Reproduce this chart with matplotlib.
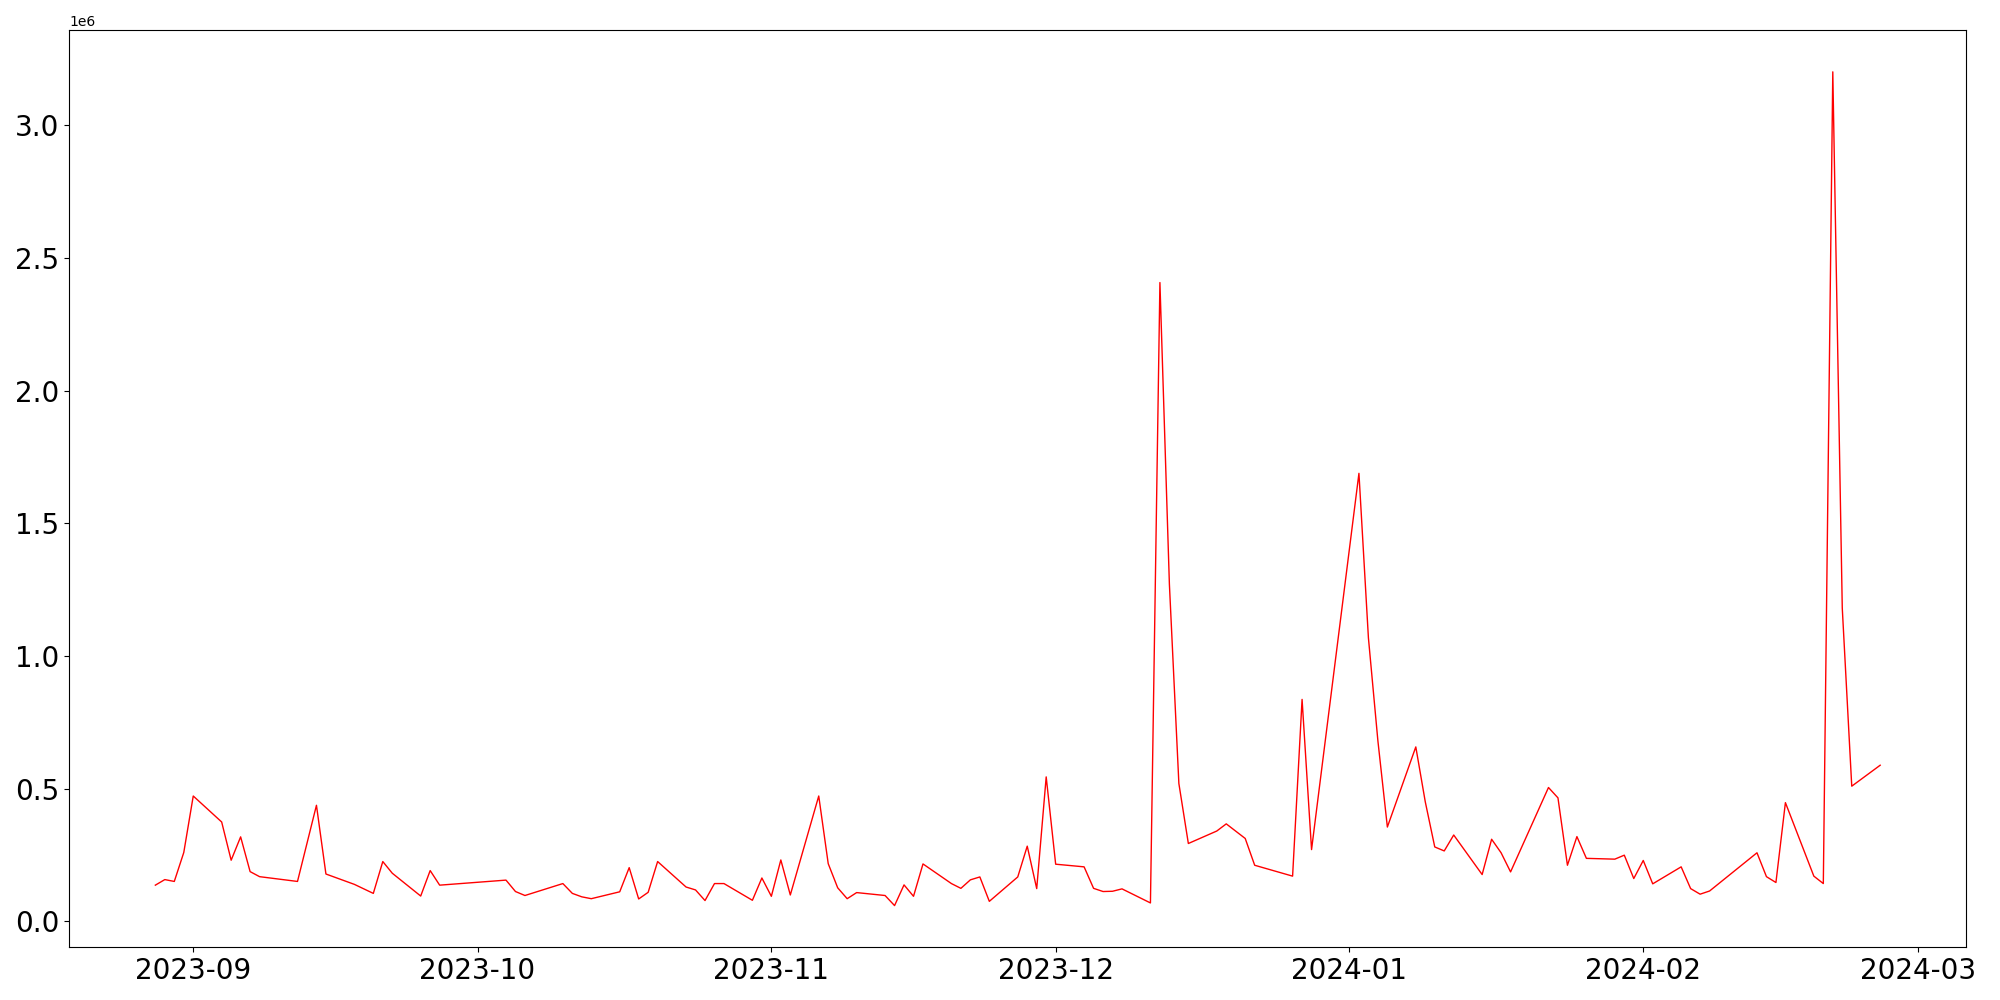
import pandas as pd
import matplotlib
matplotlib.use('Agg')
import matplotlib.pyplot as plt

# trading days
dates = [
    '2023-08-28', '2023-08-29', '2023-08-30', '2023-08-31', '2023-09-01',
    '2023-09-04', '2023-09-05', '2023-09-06', '2023-09-07', '2023-09-08',
    '2023-09-12', '2023-09-14', '2023-09-15', '2023-09-18', '2023-09-20',
    '2023-09-21', '2023-09-22', '2023-09-25', '2023-09-26', '2023-09-27',
    '2023-10-04', '2023-10-05', '2023-10-06', '2023-10-10', '2023-10-11',
    '2023-10-12', '2023-10-13', '2023-10-16', '2023-10-17', '2023-10-18',
    '2023-10-19', '2023-10-20', '2023-10-23', '2023-10-24', '2023-10-25',
    '2023-10-26', '2023-10-27', '2023-10-30', '2023-10-31', '2023-11-01',
    '2023-11-02', '2023-11-03', '2023-11-06', '2023-11-07', '2023-11-08',
    '2023-11-09', '2023-11-10', '2023-11-13', '2023-11-14', '2023-11-15',
    '2023-11-16', '2023-11-17', '2023-11-20', '2023-11-21', '2023-11-22',
    '2023-11-23', '2023-11-24', '2023-11-27', '2023-11-28', '2023-11-29',
    '2023-11-30', '2023-12-01', '2023-12-04', '2023-12-05', '2023-12-06',
    '2023-12-07', '2023-12-08', '2023-12-11', '2023-12-12', '2023-12-13',
    '2023-12-14', '2023-12-15', '2023-12-18', '2023-12-19', '2023-12-21',
    '2023-12-22', '2023-12-26', '2023-12-27', '2023-12-28', '2024-01-02',
    '2024-01-03', '2024-01-04', '2024-01-05', '2024-01-08', '2024-01-09',
    '2024-01-10', '2024-01-11', '2024-01-12', '2024-01-15', '2024-01-16',
    '2024-01-17', '2024-01-18', '2024-01-22', '2024-01-23', '2024-01-24',
    '2024-01-25', '2024-01-26', '2024-01-29', '2024-01-30', '2024-01-31',
    '2024-02-01', '2024-02-02', '2024-02-05', '2024-02-06', '2024-02-07',
    '2024-02-08', '2024-02-13', '2024-02-14', '2024-02-15', '2024-02-16',
    '2024-02-19', '2024-02-20', '2024-02-21', '2024-02-22', '2024-02-23',
    '2024-02-26',
]

# values in millions
values_m = [
    0.136, 0.157, 0.150, 0.259, 0.472,
    0.374, 0.230, 0.318, 0.187, 0.168,
    0.150, 0.437, 0.178, 0.139, 0.105,
    0.225, 0.181, 0.095, 0.191, 0.136,
    0.155, 0.112, 0.097, 0.142, 0.105,
    0.092, 0.085, 0.111, 0.202, 0.084,
    0.109, 0.225, 0.129, 0.118, 0.078,
    0.142, 0.142, 0.079, 0.163, 0.094,
    0.231, 0.099, 0.472, 0.217, 0.126,
    0.085, 0.108, 0.097, 0.059, 0.137,
    0.094, 0.216, 0.142, 0.124, 0.156,
    0.167, 0.075, 0.167, 0.283, 0.123,
    0.544, 0.215, 0.205, 0.124, 0.112,
    0.113, 0.122, 0.069, 2.407, 1.270,
    0.519, 0.293, 0.340, 0.367, 0.312,
    0.211, 0.170, 0.836, 0.270, 1.688,
    1.068, 0.680, 0.355, 0.657, 0.450,
    0.280, 0.265, 0.325, 0.176, 0.309,
    0.258, 0.186, 0.504, 0.465, 0.211,
    0.319, 0.237, 0.234, 0.249, 0.161,
    0.229, 0.141, 0.205, 0.123, 0.102,
    0.114, 0.258, 0.168, 0.146, 0.447,
    0.170, 0.142, 3.201, 1.180, 0.509,
    0.588,
]

x = pd.to_datetime(dates)
y = [v * 1e6 for v in values_m]

plt.figure(figsize=(20, 10), dpi=100)
plt.plot(x, y, color='red', linewidth=1)
plt.xticks(fontsize=20)
plt.yticks(fontsize=20)
plt.tight_layout()
plt.savefig('out.png')
